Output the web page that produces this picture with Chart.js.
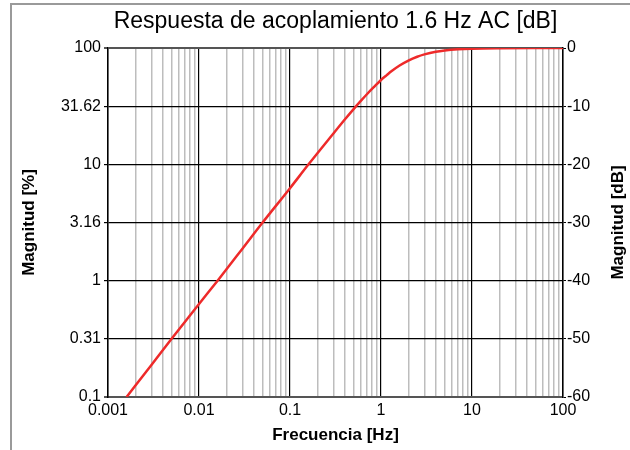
<!DOCTYPE html>
<html><head><meta charset="utf-8">
<script src="https://cdn.jsdelivr.net/npm/chart.js@4"></script>
<style>
html,body{margin:0;padding:0;background:#fff;overflow:hidden}
#wrap{position:relative;width:630px;height:450px}
#frame{position:absolute;left:10px;top:3px;width:640px;height:460px;border-left:2px solid #9a9a9a;border-top:2px solid #9a9a9a;pointer-events:none}
</style></head><body>
<div id="wrap"><canvas id="c" width="630" height="450"></canvas><div id="frame"></div></div>
<script>
// Data
const freqHz     = [0.0016, 0.003, 0.005, 0.01, 0.016, 0.03, 0.05, 0.1, 0.16, 0.3, 0.4, 0.5, 0.6, 0.7, 0.85, 1.0, 1.15, 1.3, 1.6, 2.0, 2.5, 3.0, 4.0, 5.0, 7.0, 10, 20, 50, 100];
const responseDb = [-60, -54.5, -50, -44, -40, -34.5, -30, -24.1, -20, -14.7, -12.3, -10.5, -9.1, -7.95, -6.6, -5.5, -4.7, -4.0, -3.0, -2.15, -1.5, -1.1, -0.65, -0.43, -0.22, -0.11, -0.03, 0, 0];
const dbTicks       = [0, -10, -20, -30, -40, -50, -60];
const percentLabels = ['100', '31.62', '10', '3.16', '1', '0.31', '0.1'];
const decadeValues  = [0.001, 0.01, 0.1, 1, 10, 100];
const decadeLabels  = ['0.001', '0.01', '0.1', '1', '10', '100'];
const minorMultipliers = [2, 3, 4, 5, 6, 7, 8, 9];

const titleText = 'Respuesta de acoplamiento 1.6 Hz AC [dB]';
const xTitle = 'Frecuencia [Hz]';
const yLeftTitle = 'Magnitud [%]';
const yRightTitle = 'Magnitud [dB]';

const FONT = "'Liberation Sans', Arial, sans-serif";

function decadeIndex(v){
  for (let i=0;i<decadeValues.length;i++){ if (Math.abs(v/decadeValues[i]-1) < 1e-6) return i; }
  return -1;
}

const axisTitles = {
  id: 'axisTitles',
  afterDraw(chart){
    const ctx = chart.ctx, a = chart.chartArea;
    ctx.save();
    ctx.fillStyle = '#000';
    ctx.font = 'bold 17px ' + FONT;
    ctx.textAlign = 'center';
    ctx.textBaseline = 'middle';
    const cy = (a.top + a.bottom)/2;
    ctx.save(); ctx.translate(29, cy); ctx.rotate(-Math.PI/2); ctx.fillText(yLeftTitle, 0, 0); ctx.restore();
    ctx.save(); ctx.translate(618, cy); ctx.rotate(-Math.PI/2); ctx.fillText(yRightTitle, 0, 0); ctx.restore();
    ctx.fillText(xTitle, (a.left + a.right)/2, 435);
    ctx.restore();
  }
};

const points = freqHz.map((f,i)=>({x:f, y:responseDb[i]}));

new Chart(document.getElementById('c'), {
  type: 'line',
  data: { datasets: [{
    data: points,
    borderColor: '#ee2a2a',
    borderWidth: 2.5,
    pointRadius: 0,
    cubicInterpolationMode: 'monotone',
    fill: false,
    yAxisID: 'y'
  }]},
  options: {
    responsive: false,
    devicePixelRatio: 1,
    animation: false,
    layout: { padding: 0 },
    plugins: {
      legend: { display: false },
      tooltip: { enabled: false },
      title: {
        display: true, text: titleText, fullSize: false,
        color: '#000', font: { family: FONT, size: 23, weight: 'normal', lineHeight: 1.2 },
        padding: { top: 8, bottom: 12.4 }
      }
    },
    scales: {
      x: {
        type: 'logarithmic', min: 0.001, max: 100,
        afterBuildTicks(scale){
          const t = [];
          decadeValues.forEach((d, i) => {
            t.push({ value: d, major: true });
            if (i < decadeValues.length - 1) minorMultipliers.forEach(m => t.push({ value: d*m, major: false }));
          });
          scale.ticks = t;
        },
        afterFit(scale){ scale.height = 53; },
        ticks: {
          autoSkip: false, maxRotation: 0, minRotation: 0, padding: 4,
          color: '#000', font: { family: FONT, size: 16 },
          callback(v){ const i = decadeIndex(v); return i >= 0 ? decadeLabels[i] : ''; }
        },
        grid: {
          drawTicks: false,
          color: c => (c.tick && decadeIndex(c.tick.value) >= 0) ? '#000' : '#bdbdbd',
          lineWidth: c => (c.tick && decadeIndex(c.tick.value) >= 0) ? 1.2 : 1.5
        },
        border: { display: true, color: '#555', width: 2 }
      },
      y: {
        type: 'linear', position: 'left', min: -60, max: 0,
        afterBuildTicks(scale){ scale.ticks = dbTicks.map(v => ({ value: v })); },
        afterFit(scale){ scale.width = 108; },
        ticks: {
          padding: 3, color: '#000', font: { family: FONT, size: 16 },
          callback(v){ const i = dbTicks.indexOf(v); return i >= 0 ? percentLabels[i] : ''; }
        },
        grid: {
          tickLength: 4,
          color: c => (c.tick && (c.tick.value === 0 || c.tick.value === -60)) ? '#555' : '#000',
          lineWidth: c => (c.tick && (c.tick.value === 0 || c.tick.value === -60)) ? 2 : 1.2
        },
        border: { display: true, color: '#000', width: 1.5 }
      },
      y2: {
        type: 'linear', position: 'right', min: -60, max: 0,
        afterBuildTicks(scale){ scale.ticks = dbTicks.map(v => ({ value: v })); },
        afterFit(scale){ scale.width = 67; },
        ticks: {
          padding: 1, color: '#000', font: { family: FONT, size: 16 },
          callback(v){ return String(v); }
        },
        grid: { drawOnChartArea: false, tickLength: 3, color: '#000' },
        border: { display: true, color: '#000', width: 1.5 }
      }
    }
  },
  plugins: [axisTitles]
});
</script>
</body></html>
